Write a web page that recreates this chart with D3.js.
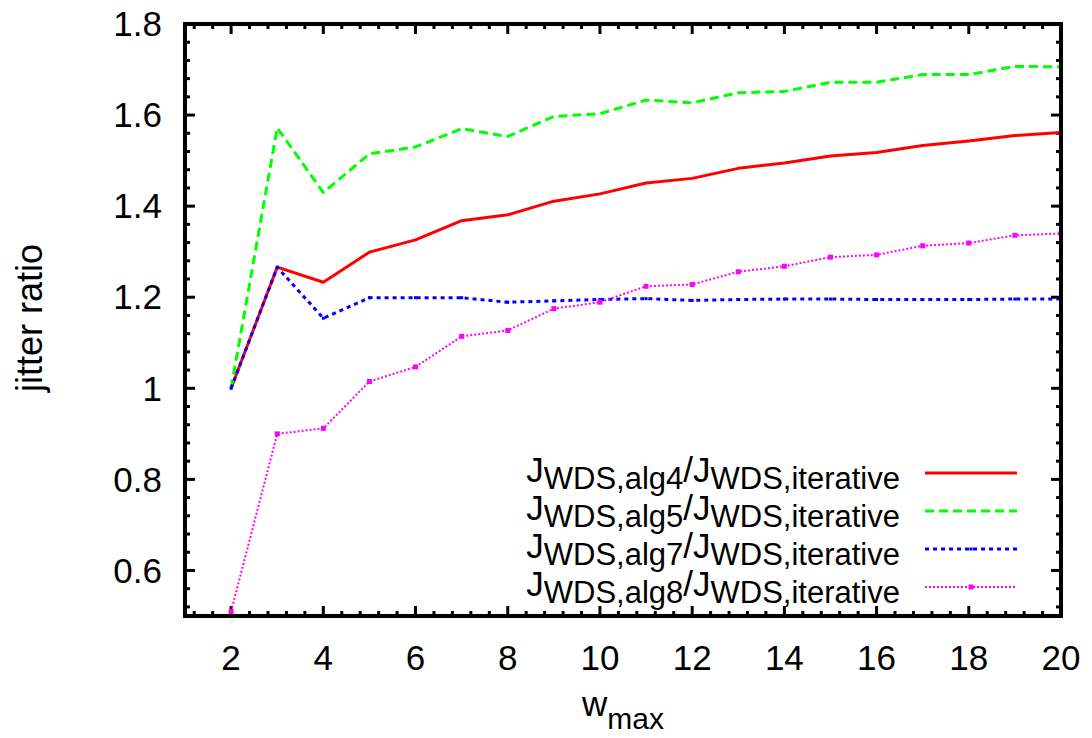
<!DOCTYPE html>
<html>
<head>
<meta charset="utf-8">
<script src="https://cdn.jsdelivr.net/npm/d3@7"></script>
<style>
  body { margin: 0; background: #fff; }
  text { font-family: "Liberation Sans", Arial, Helvetica, sans-serif; fill: #000; }
</style>
</head>
<body>
<div id="chart"></div>
<script>
const wmax = [2, 3, 4, 5, 6, 7, 8, 9, 10, 11, 12, 13, 14, 15, 16, 17, 18, 19, 20];
const alg4 = [1.0, 1.266, 1.233, 1.299, 1.326, 1.368, 1.381, 1.411, 1.427, 1.451, 1.461, 1.483, 1.495, 1.510, 1.518, 1.533, 1.543, 1.555, 1.562];
const alg5 = [1.0, 1.572, 1.430, 1.515, 1.530, 1.570, 1.553, 1.597, 1.603, 1.633, 1.627, 1.649, 1.652, 1.672, 1.672, 1.689, 1.689, 1.707, 1.706];
const alg7 = [1.0, 1.266, 1.154, 1.199, 1.199, 1.199, 1.189, 1.192, 1.195, 1.197, 1.193, 1.195, 1.196, 1.196, 1.195, 1.195, 1.195, 1.196, 1.196];
const alg8 = [0.51, 0.900, 0.912, 1.015, 1.047, 1.114, 1.127, 1.175, 1.189, 1.224, 1.228, 1.256, 1.268, 1.288, 1.293, 1.313, 1.319, 1.336, 1.340];
const algNames = ["alg4", "alg5", "alg7", "alg8"];
const xTicks = [2, 4, 6, 8, 10, 12, 14, 16, 18, 20];
const yTicks = [0.6, 0.8, 1.0, 1.2, 1.4, 1.6, 1.8];

const W = 1092, H = 738;
const margin = { top: 24, right: 31, bottom: 122, left: 185 };
const width = W - margin.left - margin.right;
const height = H - margin.top - margin.bottom;

const series = [
  { name: algNames[0], values: alg4, color: "#ff0000", dash: null, sw: 3, pt: 0 },
  { name: algNames[1], values: alg5, color: "#00ff00", dash: "9,5", sw: 3, pt: 0 },
  { name: algNames[2], values: alg7, color: "#0000ff", dash: "4,4", sw: 3, pt: 3 },
  { name: algNames[3], values: alg8, color: "#ff00ff", dash: "2,2", sw: 2, pt: 5 }
];

const x = d3.scaleLinear().domain([1, 20]).range([0, width]);
const y = d3.scaleLinear().domain([0.5, 1.8]).range([height, 0]);

const svg = d3.select("#chart").append("svg")
  .attr("width", W)
  .attr("height", H)
  .append("g")
  .attr("transform", `translate(${margin.left},${margin.top})`);

svg.append("defs").append("clipPath").attr("id", "plot-clip")
  .append("rect").attr("width", width).attr("height", height);

// minor ticks every 0.4 in x, 0.04 in y (gnuplot mxtics 5)
const xMinor = d3.range(1.2, 20, 0.4).filter(v => Math.abs(v / 2 - Math.round(v / 2)) > 0.01);
const yMinor = d3.range(0.52, 1.8, 0.04).filter(v => Math.abs(v * 5 - Math.round(v * 5)) > 0.01);

const ticks = svg.append("g").attr("stroke", "#000").attr("stroke-width", 3);
function tickSet(vals, len) {
  vals.forEach(v => {
    ticks.append("line").attr("x1", x(v)).attr("x2", x(v)).attr("y1", height).attr("y2", height - len);
    ticks.append("line").attr("x1", x(v)).attr("x2", x(v)).attr("y1", 0).attr("y2", len);
  });
}
function tickSetY(vals, len) {
  vals.forEach(v => {
    ticks.append("line").attr("y1", y(v)).attr("y2", y(v)).attr("x1", 0).attr("x2", len);
    ticks.append("line").attr("y1", y(v)).attr("y2", y(v)).attr("x1", width).attr("x2", width - len);
  });
}
tickSet(xTicks, 10);
tickSet(xMinor, 5);
tickSetY(yTicks, 10);
tickSetY(yMinor, 5);

// tick labels
svg.append("g").selectAll("text")
  .data(xTicks)
  .enter()
  .append("text")
  .attr("x", d => x(d))
  .attr("y", height + 42)
  .attr("dy", "0.35em")
  .attr("text-anchor", "middle")
  .attr("font-size", 35)
  .text(d => d);

svg.append("g").selectAll("text")
  .data(yTicks)
  .enter()
  .append("text")
  .attr("x", -23)
  .attr("y", d => y(d))
  .attr("dy", "0.35em")
  .attr("text-anchor", "end")
  .attr("font-size", 35)
  .text(d => d3.format("~g")(d));

// lines
const line = d3.line()
  .x((d, i) => x(wmax[i]))
  .y(d => y(d));

const plot = svg.append("g").attr("clip-path", "url(#plot-clip)");

series.forEach(s => {
  plot.append("path")
    .datum(s.values)
    .attr("fill", "none")
    .attr("stroke", s.color)
    .attr("stroke-width", s.sw)
    .attr("stroke-dasharray", s.dash)
    .attr("stroke-linejoin", "round")
    .attr("d", line);

  if (s.pt > 0) {
    plot.append("g").selectAll("rect")
      .data(s.values)
      .enter()
      .append("rect")
      .attr("x", (d, i) => x(wmax[i]) - s.pt / 2)
      .attr("y", d => y(d) - s.pt / 2)
      .attr("width", s.pt)
      .attr("height", s.pt)
      .attr("fill", s.color);
  }
});

// legend (sample line rows at 473, 511, 549, 587)
const legend = svg.append("g");
series.forEach((s, i) => {
  const ly = 473 + i * 38 - margin.top;
  const t = legend.append("text")
    .attr("x", 900 - margin.left)
    .attr("y", ly + 9)
    .attr("text-anchor", "end")
    .attr("font-size", 35);
  t.append("tspan").text("J");
  t.append("tspan").attr("font-size", 31).attr("dy", 7).text(`WDS,${s.name}`);
  t.append("tspan").attr("dy", -7).text("/J");
  t.append("tspan").attr("font-size", 31).attr("dy", 7).text("WDS,iterative");

  legend.append("line")
    .attr("x1", 925 - margin.left)
    .attr("x2", 1017 - margin.left)
    .attr("y1", ly)
    .attr("y2", ly)
    .attr("stroke", s.color)
    .attr("stroke-width", s.sw)
    .attr("stroke-dasharray", s.dash);
  if (s.pt > 0) {
    legend.append("rect")
      .attr("x", 971 - margin.left - s.pt / 2)
      .attr("y", ly - s.pt / 2)
      .attr("width", s.pt)
      .attr("height", s.pt)
      .attr("fill", s.color);
  }
});

// frame
svg.append("rect")
  .attr("width", width)
  .attr("height", height)
  .attr("fill", "none")
  .attr("stroke", "#000")
  .attr("stroke-width", 4);

// axis titles
const xl = svg.append("text")
  .attr("x", width / 2)
  .attr("y", height + 100)
  .attr("text-anchor", "middle")
  .attr("font-size", 35);
xl.append("tspan").text("w");
xl.append("tspan").attr("font-size", 30).attr("dy", 13).text("max");

svg.append("text")
  .attr("transform", `translate(${-143},${318 - margin.top}) rotate(-90)`)
  .attr("text-anchor", "middle")
  .attr("font-size", 36)
  .text("jitter ratio");
</script>
</body>
</html>
